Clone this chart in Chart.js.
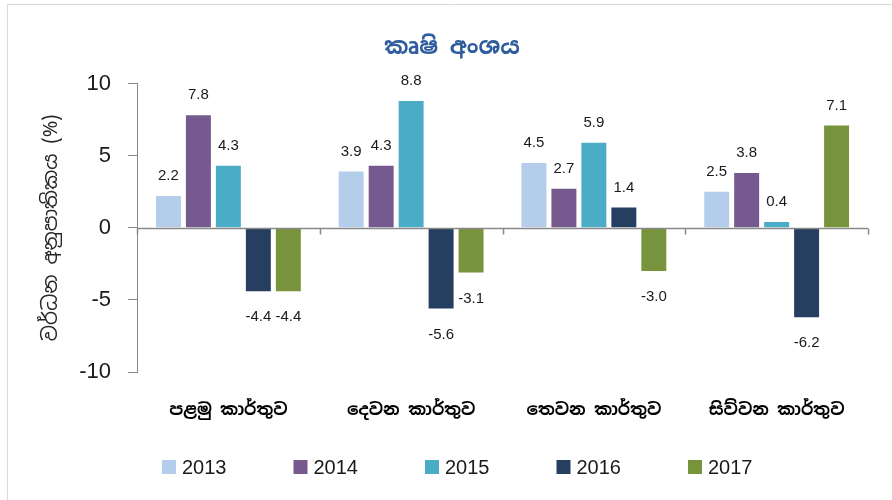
<!DOCTYPE html>
<html><head><meta charset="utf-8">
<script src="https://cdn.jsdelivr.net/npm/chart.js@4/dist/chart.umd.min.js"></script>
<style>html,body{margin:0;padding:0;background:#fff;}#wrap{width:892px;height:500px;position:relative;}</style>
</head><body><div id="wrap"><canvas id="c" width="892" height="500"></canvas></div>
<script>
const titleText = "කෘෂි අංශය";
const yTitle = "වර්ධන අනුපාතිකය (%)";
const categories = ["පළමු කාර්තුව", "දෙවන කාර්තුව", "තෙවන කාර්තුව", "සිව්වන කාර්තුව"];
const years = ["2013", "2014", "2015", "2016", "2017"];
const v2013 = [2.2, 3.9, 4.5, 2.5];
const v2014 = [7.8, 4.3, 2.7, 3.8];
const v2015 = [4.3, 8.8, 5.9, 0.4];
const v2016 = [-4.4, -5.6, 1.4, -6.2];
const v2017 = [-4.4, -3.1, -3.0, 7.1];
const yTicks = [-10, -5, 0, 5, 10];
const seriesValues = [v2013, v2014, v2015, v2016, v2017];
const seriesColors = ["#B3CDEB", "#765A8F", "#4BACC6", "#263F61", "#77933C"];

const SIN = "'Noto Sans Sinhala','Iskoola Pota','Noto Serif Sinhala','Noto Sans','DejaVu Sans',sans-serif";
const NUM = "'Liberation Sans', Arial, sans-serif";
const AXIS = "#898989";

const framePlugin = {
  id: 'frame',
  afterLayout(chart) {
    // shift the title block so it is centred where the reference has it
    if (chart.titleBlock) { chart.titleBlock.left = 36; }
  },
  beforeDraw(chart) {
    const ctx = chart.ctx;
    ctx.save();
    ctx.fillStyle = '#fff';
    ctx.fillRect(0, 0, chart.width, chart.height);
    ctx.strokeStyle = '#D9D9D9';
    ctx.lineWidth = 1;
    ctx.beginPath();
    ctx.moveTo(7.5, chart.height);
    ctx.lineTo(7.5, 4.5);
    ctx.lineTo(chart.width, 4.5);
    ctx.stroke();
    ctx.restore();
  }
};

const zeroLinePlugin = {
  id: 'zeroLine',
  afterDatasetsDraw(chart) {
    const ctx = chart.ctx, x = chart.scales.x, y = chart.scales.y;
    const y0 = Math.round(y.getPixelForValue(0)) + 0.5;
    const n = categories.length;
    const w = (x.right - x.left) / n;
    ctx.save();
    ctx.strokeStyle = AXIS;
    ctx.lineWidth = 1.5;
    ctx.beginPath();
    ctx.moveTo(x.left, y0);
    ctx.lineTo(x.right, y0);
    for (let i = 0; i <= n; i++) {
      const xx = Math.round(x.left + i * w) + 0.5;
      ctx.moveTo(xx, y0);
      ctx.lineTo(xx, y0 + 6);
    }
    ctx.stroke();
    ctx.restore();
  }
};

const labelPlugin = {
  id: 'valueLabels',
  afterDatasetsDraw(chart) {
    const ctx = chart.ctx;
    ctx.save();
    ctx.font = "15px " + NUM;
    ctx.fillStyle = "#1A1A1A";
    ctx.textAlign = 'center';
    ctx.textBaseline = 'middle';
    chart.data.datasets.forEach((ds, di) => {
      const meta = chart.getDatasetMeta(di);
      meta.data.forEach((el, i) => {
        const v = ds.data[i];
        const yy = v >= 0 ? el.y - 20 : el.y + 26;
        ctx.fillText(v.toFixed(1), el.x, yy);
      });
    });
    ctx.restore();
  }
};

const legendPlugin = {
  id: 'manualLegend',
  afterDraw(chart) {
    const ctx = chart.ctx;
    ctx.save();
    ctx.font = "20px " + NUM;
    ctx.textBaseline = 'middle';
    ctx.textAlign = 'left';
    const startX = 162, step = 131.5, cy = 467;
    chart.data.datasets.forEach((ds, i) => {
      const x = startX + i * step;
      ctx.fillStyle = ds.backgroundColor;
      ctx.fillRect(x, cy - 7, 14, 14);
      ctx.fillStyle = "#1A1A1A";
      ctx.fillText(ds.label, x + 20, cy + 1);
    });
    ctx.restore();
  }
};

new Chart(document.getElementById('c'), {
  type: 'bar',
  data: {
    labels: categories,
    datasets: years.map((yr, i) => ({
      label: yr,
      data: seriesValues[i],
      backgroundColor: seriesColors[i],
      borderWidth: 0,
      categoryPercentage: 0.82,
      barPercentage: 0.833
    }))
  },
  options: {
    responsive: false,
    animation: false,
    devicePixelRatio: 1,
    layout: { padding: { left: 0, right: 24, top: 0, bottom: 51.6 } },
    plugins: {
      legend: { display: false },
      tooltip: { enabled: false },
      title: {
        display: true,
        text: titleText,
        color: '#2F5C9C',
        font: { family: SIN, size: 23, weight: 'bold' },
        padding: { top: 34, bottom: 22 }
      }
    },
    scales: {
      x: {
        grid: { display: false, drawTicks: false },
        border: { display: false },
        ticks: {
          color: '#000',
          padding: 28,
          maxRotation: 0,
          autoSkip: false,
          font: { family: SIN, size: 17, weight: 'bold' }
        }
      },
      y: {
        min: -10,
        max: 10,
        afterBuildTicks(s) { s.ticks = yTicks.map(v => ({ value: v })); },
        afterFit(s) { s.width = 137; },
        grid: { drawOnChartArea: false, drawTicks: true, tickLength: 9, color: AXIS },
        border: { display: true, color: AXIS, width: 1 },
        ticks: {
          color: '#1A1A1A',
          padding: 17,
          font: { family: NUM, size: 22 }
        },
        title: {
          display: true,
          text: yTitle,
          color: '#262626',
          font: { family: SIN, size: 20 },
          padding: { top: 39, bottom: 0 }
        }
      }
    }
  },
  plugins: [framePlugin, zeroLinePlugin, labelPlugin, legendPlugin]
});
</script>
</body></html>
